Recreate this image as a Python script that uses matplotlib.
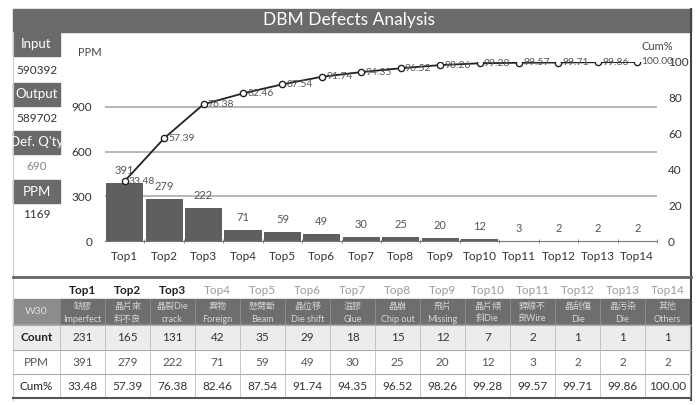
import numpy as np
import matplotlib.pyplot as plt
from matplotlib.patches import Rectangle

plt.rcParams['font.family'] = ['Lato', 'Noto Sans CJK TC', 'DejaVu Sans']

# data
cats = ['Top1', 'Top2', 'Top3', 'Top4', 'Top5', 'Top6', 'Top7',
        'Top8', 'Top9', 'Top10', 'Top11', 'Top12', 'Top13', 'Top14']
ppm = [391, 279, 222, 71, 59, 49, 30, 25, 20, 12, 3, 2, 2, 2]
count = [231, 165, 131, 42, 35, 29, 18, 15, 12, 7, 2, 1, 1, 1]
cum = [33.48, 57.39, 76.38, 82.46, 87.54, 91.74, 94.35,
       96.52, 98.26, 99.28, 99.57, 99.71, 99.86, 100.00]
defect_zh = ['缺膠', '晶片來', '晶裂Die', '異物', '懸臂斷', '晶位移', '溢膠',
             '晶崩', '飛片', '晶片傾', '銲線不', '晶刮傷', '晶污染', '其他']
defect_en = ['Imperfect', '料不良', 'crack', 'Foreign', 'Beam', 'Die shift', 'Glue',
             'Chip out', 'Missing', '斜Die', '良Wire', 'Die', 'Die', 'Others']
summary_labels = ['Input', 'Output', "Def. Q'ty", 'PPM']
summary_values = ['590392', '589702', '690', '1169']
summary_colors = ['#333333', '#333333', '#888888', '#333333']
row_labels = ['Count', 'PPM', 'Cum%']

W, H = 696, 405
fig = plt.figure(figsize=(W / 100, H / 100), dpi=100)

# background layer in pixel coordinates
bg = fig.add_axes([0, 0, 1, 1])
bg.set_xlim(0, W)
bg.set_ylim(H, 0)
bg.axis('off')

# title bar
bg.add_patch(Rectangle((13, 9), 678, 23, color='#6b6b6b'))
bg.text(349, 20, 'DBM Defects Analysis', color='white', fontsize=12.5,
        ha='center', va='center')
bg.plot([691, 691], [9, 400], color='#444444', lw=1.5)
bg.plot([13, 13], [32, 400], color='#cccccc', lw=0.8)

# left summary panel
box_top = [33, 83, 131, 180]
val_y = [70, 119, 167, 215]
for lab, val, col, yt, yv in zip(summary_labels, summary_values, summary_colors, box_top, val_y):
    bg.add_patch(Rectangle((13, yt), 47, 23, color='#6a6a6a'))
    bg.text(36.5, yt + 11.5, lab, color='white', fontsize=9.5, ha='center', va='center')
    bg.text(36.5, yv, val, color=col, fontsize=8.5, ha='center', va='center')

bg.text(78, 52, 'PPM', color='#444444', fontsize=8, ha='left', va='center')
bg.text(641, 47, 'Cum%', color='#444444', fontsize=8, ha='left', va='center')

# separator
bg.plot([13, 691], [277, 277], color='#666666', lw=2)

# table
n = len(cats)
x0, cw, c0 = 60, 45, 47
xc = [x0 + cw * (i + 0.5) for i in range(n)]
for i, c in enumerate(cats):
    bold = i < 3
    bg.text(xc[i], 290, c, fontsize=8.5, ha='center', va='center',
            color='#222222' if bold else '#9a9a9a', fontweight='bold' if bold else 'normal')

bg.add_patch(Rectangle((13, 299), c0, 26, color='#8c8c8c'))
bg.add_patch(Rectangle((x0, 299), cw * n, 26, color='#6e6e6e'))
bg.text(36.5, 312, 'W30', color='#dddddd', fontsize=7.5, ha='center', va='center')
for i in range(n):
    bg.text(xc[i], 306, defect_zh[i], color='#d5d5d5', fontsize=6.5, ha='center', va='center')
    bg.text(xc[i], 319, defect_en[i], color='#d5d5d5', fontsize=6.5, ha='center', va='center')
    bg.plot([x0 + cw * i, x0 + cw * i], [299, 325], color='#909090', lw=0.6)

rows = [count, ppm, [f'{v:.2f}' for v in cum]]
row_top = [325, 350, 374]
row_h = [25, 24, 24]
row_bg = ['#ececec', '#ffffff', '#ffffff']
row_lab_col = ['#222222', '#555555', '#222222']
val_col = ['#333333', '#555555', '#333333']
for r, (vals, yt, hh) in enumerate(zip(rows, row_top, row_h)):
    bg.add_patch(Rectangle((13, yt), 678, hh, color=row_bg[r]))
    bg.text(36.5, yt + hh / 2, row_labels[r], color=row_lab_col[r], fontsize=8.5,
            ha='center', va='center', fontweight='bold' if r == 0 else 'normal')
    for i, v in enumerate(vals):
        bg.text(xc[i], yt + hh / 2, str(v), color=val_col[r], fontsize=8.5,
                ha='center', va='center')
    bg.plot([13, 691], [yt, yt], color='#aaaaaa', lw=0.8)
for i in range(n + 1):
    bg.plot([x0 + cw * i, x0 + cw * i], [325, 398], color='#bbbbbb', lw=0.6)
bg.plot([13, 691], [398, 398], color='#555555', lw=1.5)

# chart
ax = fig.add_axes([105 / W, 1 - 241 / H, 552 / W, 179 / H])
ax.set_facecolor('none')
x = np.arange(n)
ax.bar(x, ppm, width=0.94, color='#5f5f5f', zorder=2)
for i, v in enumerate(ppm):
    ax.annotate(str(v), (i, v), xytext=(0, 5), textcoords='offset points',
                ha='center', va='bottom', fontsize=8, color='#555555')
ax.set_xlim(-0.5, n - 0.5)
ax.set_ylim(0, 1200)
ax.set_yticks([0, 300, 600, 900])
for g in [300, 600, 900]:
    ax.axhline(g, color='#aaaaaa', lw=1.2, zorder=1)
ax.set_xticks(x)
ax.set_xticklabels(cats, fontsize=8.5, color='#333333')
ax.set_xticks(np.arange(0.5, n, 1), minor=True)
ax.tick_params(axis='x', which='major', length=0, pad=7)
ax.tick_params(axis='x', which='minor', length=3, direction='inout', color='#777777')
ax.tick_params(axis='y', length=0, pad=9, labelsize=8.5, labelcolor='#333333')
for s in ['top', 'left', 'right']:
    ax.spines[s].set_visible(False)
ax.spines['bottom'].set_color('#777777')

ax2 = ax.twinx()
ax2.plot(x, cum, color='#222222', lw=1.3, marker='o', ms=4.5,
         mfc='white', mec='#222222', zorder=3)
for i, v in enumerate(cum):
    ax2.annotate(f'{v:.2f}', (i, v), xytext=(3, 0), textcoords='offset points',
                 ha='left', va='center', fontsize=7.5, color='#555555')
ax2.set_ylim(0, 100)
ax2.set_yticks([0, 20, 40, 60, 80, 100])
ax2.tick_params(axis='y', length=0, pad=8, labelsize=8.5, labelcolor='#333333')
for s in ['top', 'left', 'right', 'bottom']:
    ax2.spines[s].set_visible(False)

fig.savefig('out.png', dpi=100)
